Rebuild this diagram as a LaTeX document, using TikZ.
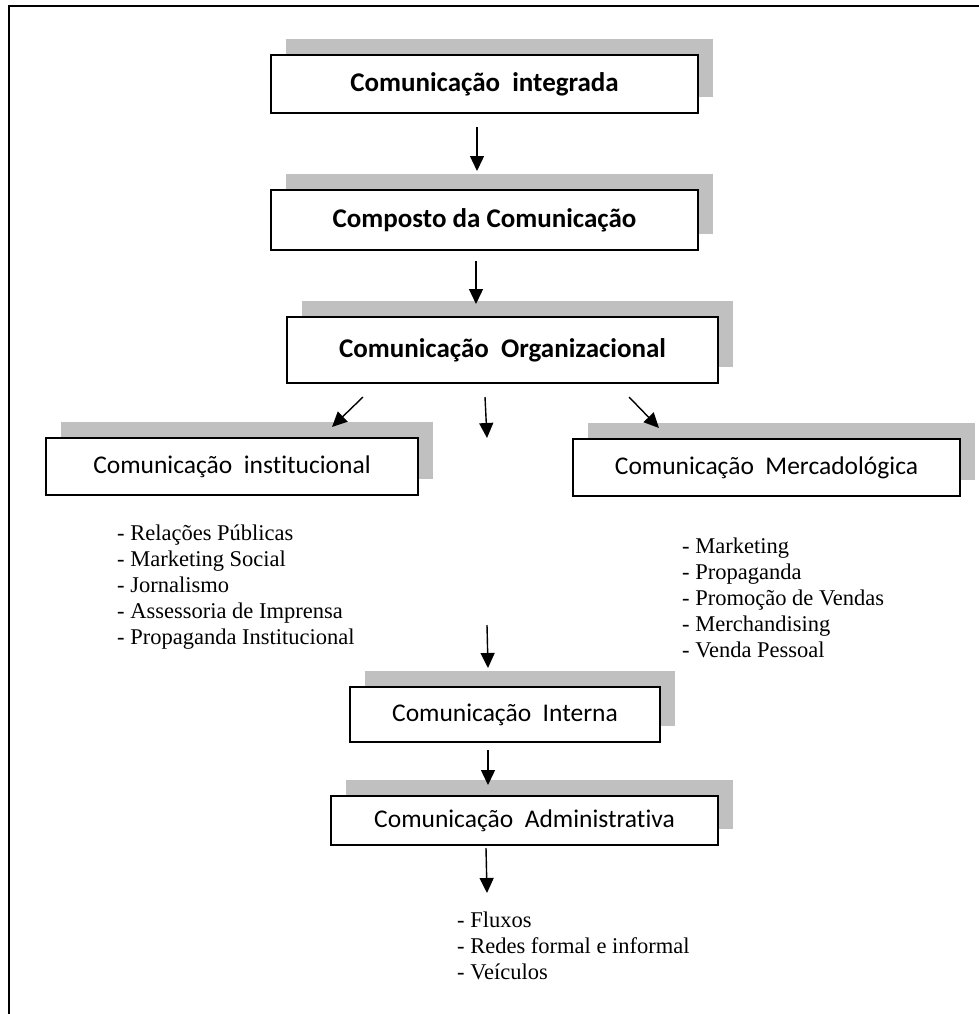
\documentclass[tikz,border=0pt]{standalone}
\usepackage{fontspec}
\setmainfont{Liberation Serif}
\newfontfamily\boxfont[Ligatures=NoCommon]{Carlito}
\newfontfamily\listfont{Liberation Serif}
\usetikzlibrary{arrows.meta,shadows}
\definecolor{shadowgray}{RGB}{192,192,192}
\tikzset{
  box/.style={draw=black, line width=1.6pt, fill=white, inner sep=0pt,
    font=\boxfont\fontsize{25.5}{28}\selectfont,
    drop shadow={shadow xshift=15pt, shadow yshift=16pt, fill=shadowgray, opacity=1}},
  boldbox/.style={box, font=\boxfont\bfseries\fontsize{27}{30}\selectfont},
  arr/.style={line width=1.4pt, -{Triangle[width=14pt,length=15pt]}},
  lst/.style={anchor=base west, inner sep=0pt, align=left,
    font=\listfont\fontsize{22.5}{26}\selectfont}
}
\begin{document}
\begin{tikzpicture}[x=1pt,y=-1pt]
\useasboundingbox (0,0) rectangle (979,1014);
\begin{scope}
\clip (0,0) rectangle (979,1014);
\draw[line width=1.8pt] (9,1030) -- (9,6) -- (1000,6);
\end{scope}

\node[boldbox, minimum width=427pt, minimum height=58pt] (b1) at (484.5,84) {Comunicação\ \ integrada};
\node[boldbox, minimum width=427pt, minimum height=60pt] (b2) at (484.5,220) {Composto da Comunicação};
\node[boldbox, minimum width=431pt, minimum height=66pt] (b3) at (502.5,350) {Comunicação\ \ Organizacional};
\node[box, minimum width=372pt, minimum height=57pt] (b4) at (232,466.5) {Comunicação\ \ institucional};
\node[box, minimum width=387pt, minimum height=57pt] (b5) at (766.5,467.5) {Comunicação\ \ Mercadológica};
\node[box, minimum width=310pt, minimum height=55pt] (b6) at (505,714.5) {Comunicação\ \ Interna};
\node[box, minimum width=387pt, minimum height=49pt] (b7) at (524.5,820.5) {Comunicação\ \ Administrativa};

\node[lst] (l1) at (117,644) {- Relações Públicas\\- Marketing Social\\- Jornalismo\\- Assessoria de Imprensa\\- Propaganda Institucional};
\node[lst] (l2) at (682,657) {- Marketing\\- Propaganda\\- Promoção de Vendas\\- Merchandising\\- Venda Pessoal};
\node[lst] (l3) at (457,979) {- Fluxos\\- Redes formal e informal\\- Veículos};

\coordinate (a1s) at (477,127);  \coordinate (a1e) at (477,171);
\coordinate (a2s) at (476,261);  \coordinate (a2e) at (476,304);
\coordinate (a3s) at (363,397);  \coordinate (a3e) at (332,427);
\coordinate (a4s) at (485,397);  \coordinate (a4e) at (487,438);
\coordinate (a5s) at (629,397);  \coordinate (a5e) at (659,428);
\coordinate (a6s) at (487,625);  \coordinate (a6e) at (488,668);
\coordinate (a7s) at (488,750);  \coordinate (a7e) at (488,785);
\coordinate (a8s) at (486,848);  \coordinate (a8e) at (487,893);

\draw[arr] (a1s) -- (a1e);
\draw[arr] (a2s) -- (a2e);
\draw[arr] (a3s) -- (a3e);
\draw[arr] (a4s) -- (a4e);
\draw[arr] (a5s) -- (a5e);
\draw[arr] (a6s) -- (a6e);
\draw[arr] (a7s) -- (a7e);
\draw[arr] (a8s) -- (a8e);
\end{tikzpicture}
\end{document}
